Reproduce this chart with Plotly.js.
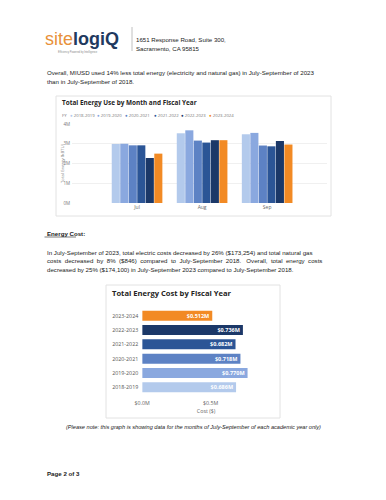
<!DOCTYPE html>
<html>
<head>
<meta charset="utf-8">
<script src="https://cdn.plot.ly/plotly-3.0.1.min.js"></script>
<style>html,body{margin:0;padding:0;background:#fff;}#chart{width:386px;height:500px;}</style>
</head>
<body>
<div id="chart"></div>
<script>
// ---- Chart 1 data: Total Energy Use by Month and Fiscal Year (kBTU) ----
const months = ['Jul', 'Aug', 'Sep'];
const fiscalYears = ['2018-2019', '2019-2020', '2020-2021', '2021-2022', '2022-2023', '2023-2024'];
const use2018 = [2990000, 3530000, 3480000];
const use2019 = [3000000, 3680000, 3550000];
const use2020 = [2920000, 3160000, 2910000];
const use2021 = [2920000, 3060000, 2870000];
const use2022 = [2280000, 3180000, 3140000];
const use2023 = [2500000, 3180000, 2960000];
const useTickVals = [0, 1000000, 2000000, 3000000, 4000000];
const useTickText = ['0M', '1M', '2M', '3M', '4M'];

// ---- Chart 2 data: Total Energy Cost by Fiscal Year ($) ----
const costYears = ['2018-2019', '2019-2020', '2020-2021', '2021-2022', '2022-2023', '2023-2024'];
const costValues = [686000, 770000, 718000, 682000, 736000, 512000];
const costTickVals = [0, 500000];
const costTickText = ['$0.0M', '$0.5M'];

const fyColors = ['#b3caec', '#8aa8df', '#5d82c4', '#2b5596', '#1b3868', '#f28a24'];

const W = 386, H = 500;
const px = x => x / W;
const py = y => 1 - y / H;
const docFont = 'Liberation Sans, Arial, sans-serif';
const biFont = 'Open Sans, Noto Sans, sans-serif';

const useSeries = [use2018, use2019, use2020, use2021, use2022, use2023];
const traces = useSeries.map((vals, i) => ({
  type: 'bar', x: months, y: vals, name: fiscalYears[i],
  marker: {color: fyColors[i]}, xaxis: 'x', yaxis: 'y', hoverinfo: 'none'
}));

traces.push({
  type: 'bar', orientation: 'h', x: costValues, y: costYears,
  xaxis: 'x2', yaxis: 'y2', marker: {color: fyColors}, width: 0.7,
  text: costValues.map(v => '$' + (v / 1e6).toFixed(3) + 'M'),
  texttemplate: '<b>%{text}</b>', textposition: 'inside', insidetextanchor: 'end',
  constraintext: 'none', textfont: {family: biFont, size: 5.5, color: '#ffffff'},
  hoverinfo: 'none', showlegend: false
});

const annotations = [];
function txt(text, x, y, size, opts) {
  annotations.push(Object.assign({
    text: text, x: px(x), y: py(y), xref: 'paper', yref: 'paper',
    xanchor: 'left', yanchor: 'middle', showarrow: false,
    font: {family: docFont, size: size, color: '#222'}
  }, opts || {}));
}

// Header / logo
txt('<span style="color:#e8913a">site</span><span style="color:#1f3a60"><b>logiQ</b></span>', 43, 39, 18, {font: {family: 'Liberation Sans, Arial, sans-serif', size: 18, color: '#e8913a'}});
txt('Efficiency Powered by Intelligence', 56, 52, 2.6, {font: {family: docFont, size: 2.6, color: '#8a8a8a'}});
txt('1651 Response Road, Suite 300,', 133.5, 40, 6.1);
txt('Sacramento, CA 95815', 133.5, 49, 6.1);

// Paragraph 1
const dSize = 6.15;
txt('Overall, MIUSD used 14% less total energy (electricity and natural gas) in July-September of 2023', 44.5, 72, dSize);
txt('than in July-September of 2018.', 44.5, 81, dSize);

// Chart 1 title, legend, axis title
txt('<b>Total Energy Use by Month and Fiscal Year</b>', 60, 103, 6.4, {font: {family: biFont, size: 6.4, color: '#252423'}});
txt('FY', 60, 115, 4.3, {font: {family: biFont, size: 4.3, color: '#777'}});
const legendX = [67.5, 95, 123, 151.5, 179, 207];
fiscalYears.forEach((fy, i) => {
  txt('<span style="color:' + fyColors[i] + '">●</span> ' + fy, legendX[i], 115, 4.3, {font: {family: biFont, size: 4.3, color: '#777'}});
});
annotations.push({
  text: 'Total Energy (kBTU)', x: px(62), y: py(163), xref: 'paper', yref: 'paper',
  xanchor: 'center', yanchor: 'middle', textangle: -90, showarrow: false,
  font: {family: biFont, size: 4.3, color: '#777'}
});

// Energy Cost section
txt('<b>Energy Cost:</b>', 44.5, 233.5, dSize);
txt('In July-September of 2023, total electric costs decreased by 26% ($173,254) and total natural gas', 44.5, 252, dSize);
txt('costs  decreased  by  8%  ($846)  compared  to  July-September  2018.   Overall,  total  energy  costs', 44.5, 260.5, dSize);
txt('decreased by 25% ($174,100) in July-September 2023 compared to July-September 2018.', 44.5, 269, dSize);

// Chart 2 title
txt('<b>Total Energy Cost by Fiscal Year</b>', 110, 293, 7.6, {font: {family: biFont, size: 7.6, color: '#252423'}});

// Note and footer
annotations.push({
  text: '<i>(Please note: this graph is showing data for the months of July-September of each academic year only)</i>',
  x: px(193), y: py(427), xref: 'paper', yref: 'paper', xanchor: 'center', yanchor: 'middle',
  showarrow: false, font: {family: docFont, size: 5.6, color: '#222'}
});
txt('<b>Page 2 of 3</b>', 44.5, 473, dSize);

const shapes = [
  {type: 'rect', xref: 'paper', yref: 'paper', x0: px(56), x1: px(331), y0: py(216), y1: py(96), line: {color: '#e2e2e2', width: 1}, fillcolor: '#ffffff', layer: 'below'},
  {type: 'rect', xref: 'paper', yref: 'paper', x0: px(106), x1: px(280), y0: py(418), y1: py(285), line: {color: '#e2e2e2', width: 1}, fillcolor: '#ffffff', layer: 'below'},
  {type: 'line', xref: 'paper', yref: 'paper', x0: px(132), x1: px(132), y0: py(27), y1: py(51), line: {color: '#b0b0b0', width: 0.8}},
  {type: 'line', xref: 'paper', yref: 'paper', x0: px(44.5), x1: px(76), y0: py(237), y1: py(237), line: {color: '#222', width: 0.6}}
];

const layout = {
  width: W, height: H, margin: {l: 0, r: 0, t: 0, b: 0},
  paper_bgcolor: '#ffffff', plot_bgcolor: 'rgba(0,0,0,0)',
  showlegend: false, barmode: 'group', bargap: 0.215, bargroupgap: 0.05,
  font: {family: biFont, color: '#666'},
  xaxis: {
    domain: [px(72), px(327)], range: [-1, 2.92], anchor: 'y',
    showgrid: false, zeroline: false, showline: false, ticks: '',
    tickfont: {family: biFont, size: 5, color: '#666'}, fixedrange: true
  },
  yaxis: {
    domain: [py(203), py(124)], range: [0, 4000000], anchor: 'x',
    tickvals: useTickVals, ticktext: useTickText, showgrid: true, gridcolor: '#ececec', gridwidth: 0.8,
    zeroline: false, showline: false, ticks: '', ticklabelstandoff: 1,
    tickfont: {family: biFont, size: 4.5, color: '#777'}, fixedrange: true
  },
  xaxis2: {
    domain: [px(142.2), px(270)], range: [0, 934000], anchor: 'y2',
    tickvals: costTickVals, ticktext: costTickText, showgrid: false, zeroline: false,
    showline: false, ticks: '', ticklabelstandoff: 4,
    tickfont: {family: biFont, size: 5.3, color: '#666'},
    title: {text: 'Cost ($)', font: {family: biFont, size: 5.3, color: '#666'}, standoff: 2}, fixedrange: true
  },
  yaxis2: {
    domain: [py(394.5), py(308.5)], type: 'category', categoryorder: 'array', categoryarray: costYears,
    anchor: 'x2', showgrid: false, zeroline: false, showline: false, ticks: '', ticklabelstandoff: 3,
    tickfont: {family: biFont, size: 5.3, color: '#555'}, fixedrange: true
  },
  annotations: annotations,
  shapes: shapes
};

Plotly.newPlot('chart', traces, layout, {displayModeBar: false, staticPlot: true});
</script>
</body>
</html>
